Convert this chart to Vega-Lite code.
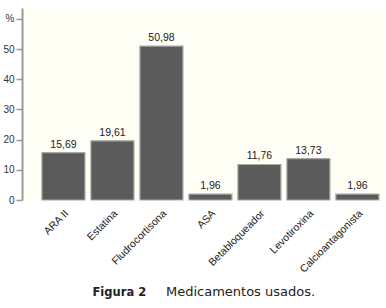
{
  "$schema": "https://vega.github.io/schema/vega-lite/v6.json",
  "width": 361,
  "height": 192,
  "autosize": {"type": "none"},
  "padding": {"left": 22, "top": 8, "right": 3, "bottom": 108},
  "background": "#ffffff",
  "config": {
    "view": {"fill": "#fefef4", "stroke": null},
    "font": "Liberation Sans",
    "locale": {"number": {"decimal": ",", "thousands": ".", "grouping": [3], "currency": ["", ""]}}
  },
  "data": {
    "values": [
      {"medicamento": "ARA II", "pct": 15.69},
      {"medicamento": "Estatina", "pct": 19.61},
      {"medicamento": "Fludrocortisona", "pct": 50.98},
      {"medicamento": "ASA", "pct": 1.96},
      {"medicamento": "Betabloqueador", "pct": 11.76},
      {"medicamento": "Levotiroxina", "pct": 13.73},
      {"medicamento": "Calcioantagonista", "pct": 1.96}
    ]
  },
  "encoding": {
    "x": {
      "field": "medicamento",
      "type": "nominal",
      "sort": null,
      "scale": {"paddingInner": 0.122, "paddingOuter": 0.245, "align": 0.83},
      "axis": {
        "title": "Medicamentos usados.",
        "titleFont": "DejaVu Sans",
        "titleFontSize": 13,
        "titleFontWeight": "normal",
        "titleColor": "#222222",
        "titleX": 218,
        "titleY": 95,
        "titleAlign": "center",
        "titleBaseline": "alphabetic",
        "labelAngle": -45,
        "labelFontSize": 10.5,
        "labelColor": "#222222",
        "labelPadding": 8,
        "domain": false,
        "ticks": false
      }
    },
    "y": {
      "field": "pct",
      "type": "quantitative",
      "scale": {"domain": [0, 63.6], "nice": false},
      "axis": {
        "title": "Figura 2",
        "titleFont": "DejaVu Sans",
        "titleFontSize": 11.5,
        "titleFontWeight": "bold",
        "titleColor": "#222222",
        "titleAngle": 0,
        "titleX": 70,
        "titleY": 287,
        "titleAlign": "left",
        "titleBaseline": "alphabetic",
        "values": [0, 10, 20, 30, 40, 50, 60],
        "labelExpr": "datum.value == 60 ? '%' : datum.label",
        "labelFontSize": 10,
        "labelColor": "#333333",
        "labelPadding": 2,
        "grid": false,
        "domainColor": "#9a9a9a",
        "domainWidth": 2,
        "tickColor": "#9a9a9a",
        "tickSize": 6,
        "tickWidth": 1.5
      }
    }
  },
  "layer": [
    {
      "mark": {"type": "bar", "fill": "#5b5b5b", "stroke": "#a8a8a8", "strokeWidth": 1.2}
    },
    {
      "mark": {"type": "text", "baseline": "alphabetic", "dy": -5, "fontSize": 10.5, "color": "#222222"},
      "encoding": {"text": {"field": "pct", "type": "quantitative", "format": ".2f"}}
    }
  ]
}
